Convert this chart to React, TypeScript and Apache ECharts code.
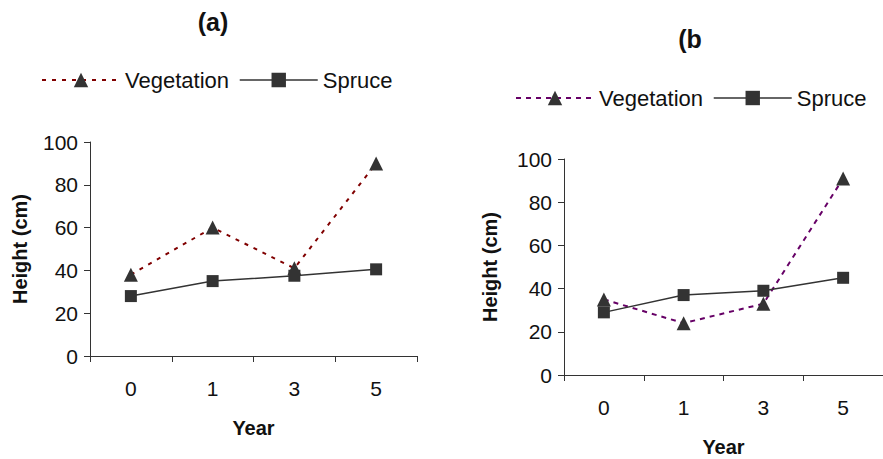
import React, { useEffect, useRef } from "react";
import * as echarts from "echarts";

const years = ["0", "1", "3", "5"];
const vegetationA = [38, 60, 41, 90];
const spruceA = [28, 35, 37.5, 40.5];
const vegetationB = [35, 24, 33, 91];
const spruceB = [29, 37, 39, 45];
const yTicks = { min: 0, max: 100, interval: 20 };

const FONT = "Liberation Sans";
const DARK = "#333333";

function makeX(gridIndex: number, nameGap: number) {
  return {
    type: "category",
    gridIndex,
    data: years,
    boundaryGap: true,
    name: "Year",
    nameLocation: "middle",
    nameGap,
    nameTextStyle: { fontFamily: FONT, fontSize: 20, fontWeight: "bold", color: "#111" },
    axisLine: { lineStyle: { color: DARK, width: 1 } },
    axisTick: { show: true, length: 6, inside: false, alignWithLabel: false, lineStyle: { color: DARK } },
    axisLabel: { fontFamily: FONT, fontSize: 21, color: "#111", margin: 22 },
    splitLine: { show: false },
  };
}

function makeY(gridIndex: number, nameGap: number) {
  return {
    type: "value",
    gridIndex,
    ...yTicks,
    name: "Height (cm)",
    nameLocation: "middle",
    nameGap,
    nameTextStyle: { fontFamily: FONT, fontSize: 20, fontWeight: "bold", color: "#111" },
    axisLine: { show: true, lineStyle: { color: DARK, width: 1 } },
    axisTick: { show: true, length: 6, lineStyle: { color: DARK } },
    axisLabel: { fontFamily: FONT, fontSize: 21, color: "#111", margin: 12 },
    splitLine: { show: false },
  };
}

function legendFor(left: number, top: number, vegColor: string, dash: number[]) {
  return {
    left,
    top,
    itemWidth: 78,
    itemHeight: 18,
    itemGap: 10,
    textStyle: { fontFamily: FONT, fontSize: 22, color: "#111" },
    data: [
      {
        name: "Vegetation",
        itemStyle: { color: DARK },
        lineStyle: { color: vegColor, type: dash, width: 2 },
      },
      {
        name: "Spruce",
        itemStyle: { color: DARK },
        lineStyle: { color: DARK, type: "solid", width: 1.5 },
      },
    ],
  };
}

export default function App() {
  const ref = useRef<HTMLDivElement>(null);
  useEffect(() => {
    if (!ref.current) return;
    const chart = echarts.init(ref.current, null, { renderer: "svg" });
    const dashA = [4, 6];
    const dashB = [5, 5];
    chart.setOption({
      animation: false,
      backgroundColor: "#fff",
      title: [
        {
          text: "(a)",
          left: 208,
          top: 4,
          textAlign: "center",
          textStyle: { fontFamily: FONT, fontSize: 25, fontWeight: "bold", color: "#111" },
        },
        {
          text: "(b",
          left: 685,
          top: 21,
          textAlign: "center",
          textStyle: { fontFamily: FONT, fontSize: 25, fontWeight: "bold", color: "#111" },
        },
      ],
      legend: [legendFor(36, 64, "#800000", dashA), legendFor(510, 82, "#660066", dashB)],
      grid: [
        { left: 90, top: 142, width: 327, height: 214 },
        { left: 564, top: 159, width: 328, height: 216 },
      ],
      xAxis: [makeX(0, 62), makeX(1, 62)],
      yAxis: [makeY(0, 60), makeY(1, 64)],
      series: [
        {
          name: "Vegetation",
          type: "line",
          xAxisIndex: 0,
          yAxisIndex: 0,
          data: vegetationA,
          symbol: "triangle",
          symbolSize: 14,
          itemStyle: { color: DARK },
          lineStyle: { color: "#800000", type: dashA, width: 2 },
          z: 2,
        },
        {
          name: "Spruce",
          type: "line",
          xAxisIndex: 0,
          yAxisIndex: 0,
          data: spruceA,
          symbol: "rect",
          symbolSize: 12,
          itemStyle: { color: DARK },
          lineStyle: { color: DARK, width: 1.5 },
          z: 3,
        },
        {
          name: "Vegetation",
          type: "line",
          xAxisIndex: 1,
          yAxisIndex: 1,
          data: vegetationB,
          symbol: "triangle",
          symbolSize: 14,
          itemStyle: { color: DARK },
          lineStyle: { color: "#660066", type: dashB, width: 2 },
          z: 2,
        },
        {
          name: "Spruce",
          type: "line",
          xAxisIndex: 1,
          yAxisIndex: 1,
          data: spruceB,
          symbol: "rect",
          symbolSize: 12,
          itemStyle: { color: DARK },
          lineStyle: { color: DARK, width: 1.5 },
          z: 3,
        },
      ],
    });
    return () => chart.dispose();
  }, []);
  return <div ref={ref} style={{ width: 883, height: 459, position: "absolute", left: 0, top: 0 }} />;
}
